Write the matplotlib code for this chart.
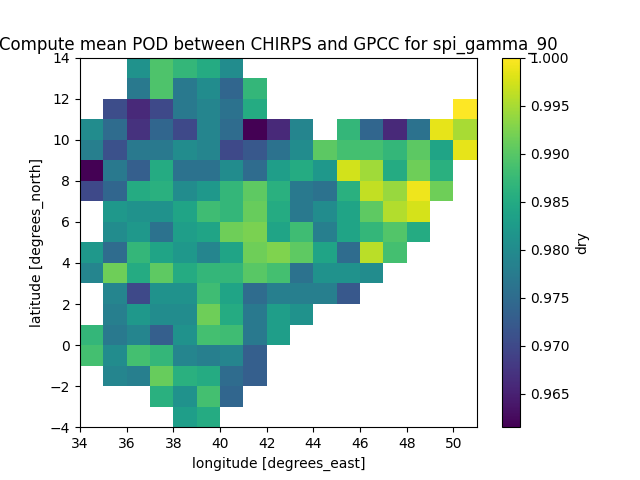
import numpy as np
import matplotlib
matplotlib.use('Agg')
import matplotlib.pyplot as plt

n = np.nan

lon_edges = list(range(34, 52))
lat_edges = list(range(-4, 15))

# rows go from lat -4 up to lat 14, columns from lon 34 to lon 50
row_m4 = [n, n, n, n, .983, .985, n, n, n, n, n, n, n, n, n, n, n]
row_m3 = [n, n, n, .986, .981, .9885, .974, n, n, n, n, n, n, n, n, n, n]
row_m2 = [n, .979, .978, .991, .986, .985, .975, .973, n, n, n, n, n, n, n, n, n]
row_m1 = [.9885, .980, .9885, .987, .979, .978, .979, .973, n, n, n, n, n, n, n, n, n]
row_0 = [.987, .977, .979, .973, .981, .9885, .988, .977, .983, n, n, n, n, n, n, n, n]
row_1 = [n, .978, .982, .980, .980, .9915, .985, .977, .983, .981, n, n, n, n, n, n, n]
row_2 = [n, .979, .970, .981, .981, .988, .984, .975, .978, .978, .978, .972, n, n, n, n, n]
row_3 = [.979, .9915, .985, .9905, .985, .987, .987, .990, .9885, .976, .981, .981, .980, n, n, n, n]
row_4 = [.982, .975, .987, .984, .982, .979, .984, .9915, .9925, .9905, .984, .975, .996, .9885, n, n, n]
row_5 = [n, .980, .982, .976, .983, .984, .9915, .9923, .984, .988, .978, .984, .987, .9895, .985, n, n]
row_6 = [n, .982, .981, .981, .984, .988, .987, .991, .985, .977, .980, .984, .9905, .9955, .9975, n, n]
row_7 = [.970, .974, .985, .986, .980, .982, .987, .9905, .986, .977, .976, .986, .9965, .994, .999, .9915, n]
row_8 = [.9615, .977, .973, .985, .976, .976, .980, .975, .983, .985, .982, .9974, .9945, .985, .9915, .986, n]
row_9 = [.978, .971, .977, .977, .980, .979, .970, .972, .976, .980, .9903, .9885, .9885, .987, .9903, .984, .9985]
row_10 = [.980, .975, .967, .974, .970, .979, .975, .9615, .966, .979, n, .987, .974, .966, .976, .9985, .995]
row_11 = [n, .9705, .966, .970, .977, .979, .976, .985, n, n, n, n, n, n, n, n, 1.0]
row_12 = [n, n, .977, .9893, .977, .980, .974, .987, n, n, n, n, n, n, n, n, n]
row_13 = [n, n, .981, .9893, .987, .985, .980, n, n, n, n, n, n, n, n, n, n]

pod = np.array([row_m4, row_m3, row_m2, row_m1, row_0, row_1, row_2, row_3, row_4,
                row_5, row_6, row_7, row_8, row_9, row_10, row_11, row_12, row_13])

fig, ax = plt.subplots(figsize=(6.4, 4.8), dpi=100)
mesh = ax.pcolormesh(lon_edges, lat_edges, pod, cmap='viridis', vmin=0.9615, vmax=1.0)
cbar = fig.colorbar(mesh, ax=ax)
cbar.set_label('dry')
ax.set_xticks(range(34, 52, 2))
ax.set_yticks(range(-4, 16, 2))
ax.set_xlim(34, 51)
ax.set_ylim(-4, 14)
ax.set_xlabel('longitude [degrees_east]')
ax.set_ylabel('latitude [degrees_north]')
ax.set_title('Compute mean POD between CHIRPS and GPCC for spi_gamma_90')
fig.savefig('out.png', dpi=100)
